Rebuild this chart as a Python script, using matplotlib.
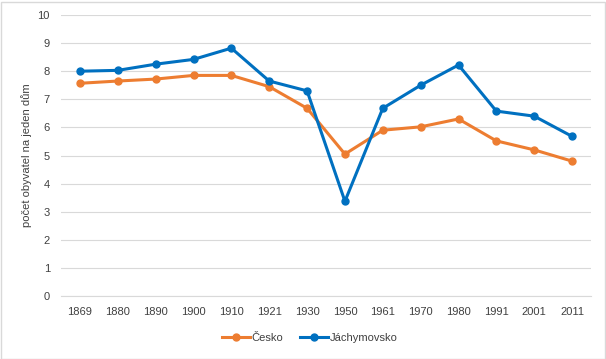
import matplotlib
matplotlib.use("Agg")
import matplotlib.pyplot as plt
from matplotlib.patches import Rectangle

years = ["1869", "1880", "1890", "1900", "1910", "1921", "1930", "1950",
         "1961", "1970", "1980", "1991", "2001", "2011"]
cesko = [7.57, 7.65, 7.72, 7.85, 7.85, 7.45, 6.68, 5.05, 5.9, 6.02, 6.3, 5.52, 5.2, 4.8]
jachymovsko = [8.0, 8.03, 8.25, 8.42, 8.82, 7.65, 7.3, 3.37, 6.68, 7.5, 8.22, 6.58, 6.4, 5.68]

plt.rcParams["font.family"] = ["Liberation Sans", "DejaVu Sans"]

fig = plt.figure(figsize=(6.06, 3.59), dpi=100)
ax = fig.add_axes([61 / 606, 63 / 359, 530 / 606, 281 / 359])

x = list(range(len(years)))
ax.plot(x, cesko, color="#ED7D31", lw=2.2, marker="o", ms=5, label="Česko")
ax.plot(x, jachymovsko, color="#0070C0", lw=2.2, marker="o", ms=5, label="Jáchymovsko")

ax.set_xlim(-0.5, len(years) - 0.5)
ax.set_ylim(0, 10)
ax.set_yticks(range(0, 11))
ax.set_xticks(x)
ax.set_xticklabels(years)
ax.tick_params(length=0, labelsize=8, colors="#404040", pad=8)
ax.tick_params(axis="y", pad=8)
ax.grid(axis="y", color="#D9D9D9", lw=0.8)
ax.set_axisbelow(True)
for s in ["top", "right", "left"]:
    ax.spines[s].set_visible(False)
ax.spines["bottom"].set_color("#D9D9D9")
ax.set_ylabel("počet obyvatel na jeden dům", fontsize=8, color="#404040", labelpad=4)

fig.legend(loc="center", bbox_to_anchor=(310 / 606, 1 - 338 / 359), ncol=2, frameon=False,
           fontsize=8, handlelength=2.5, columnspacing=1.5, handletextpad=0.2,
           labelcolor="#404040")

fig.patches.append(Rectangle((0.5 / 606, 0.5 / 359), 604 / 606, 357 / 359, transform=fig.transFigure,
                             fill=False, edgecolor="#D9D9D9", lw=1))

fig.savefig("out.png", dpi=100)
